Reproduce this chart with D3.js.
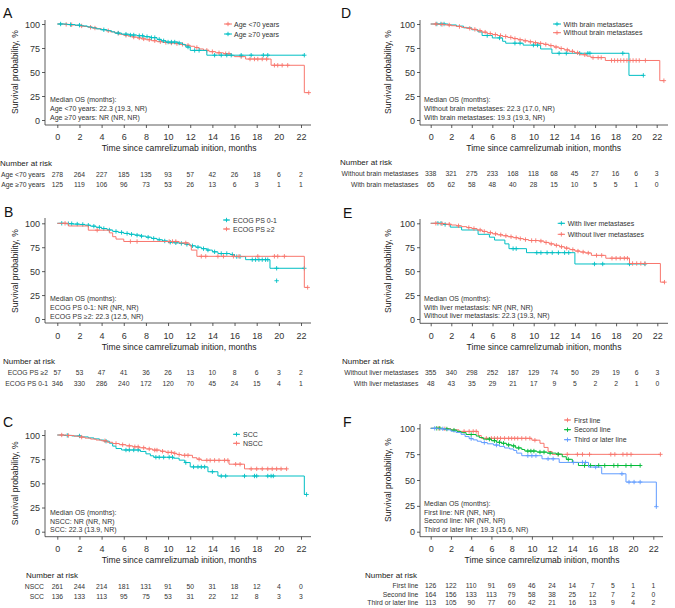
<!DOCTYPE html>
<html><head><meta charset="utf-8">
<script src="https://cdn.jsdelivr.net/npm/d3@7"></script>
<style>body{margin:0;background:#fff}svg{display:block;font-family:"Liberation Sans",Arial,Helvetica,sans-serif}</style>
</head><body><svg id="c" width="675" height="608"></svg>
<script>
// ---------- DATA ----------
const monthTicks = [0,2,4,6,8,10,12,14,16,18,20,22];
const survTicks = [0,25,50,75,100];
const xTitle = "Time since camrelizumab inition, months";
const yTitle = "Survival probability, %";

// Panel A
const A_lt70_steps = [[0.6,99.6],[1.1,99.2],[1.6,98.6],[2.0,98.0],[2.4,97.4],[2.8,96.6],[3.2,95.8],[3.6,95.0],[4.0,94.2],[4.4,93.0],[4.8,91.8],[5.2,90.5],[5.6,89.3],[6.0,88.2],[6.4,87.3],[6.8,86.4],[7.2,85.5],[7.6,84.5],[8.0,83.6],[8.5,82.6],[9.0,81.6],[9.5,80.8],[10.0,80.2],[10.6,79.6],[11.0,78.8],[11.5,77.8],[12.0,76.8],[12.4,75.5],[12.8,74.0],[13.2,72.6],[13.7,71.2],[14.3,70.0],[15.0,69.0],[15.7,67.0],[16.0,66.0],[17.0,63.5],[19.3,57.0],[22.3,28.5]];
const A_lt70_censor = [0.8,1.3,2.2,3.0,3.4,4.6,5.5,6.2,6.9,7.4,7.8,8.3,8.8,9.3,9.8,10.3,10.8,11.3,11.8,12.6,13.5,14.0,14.6,15.2,15.5,16.6,17.4,17.8,18.1,18.5,18.9,19.6,19.9,20.3,20.8,22.7];
const A_ge70_steps = [[0.9,99.4],[1.6,98.8],[2.2,98.0],[2.7,97.0],[3.1,96.0],[3.5,95.0],[3.9,94.0],[4.5,93.0],[4.9,91.8],[5.2,90.5],[5.8,89.4],[6.5,88.5],[7.2,87.8],[7.8,86.8],[8.4,85.8],[9.0,84.0],[9.4,82.5],[9.8,81.2],[10.9,80.2],[11.3,78.5],[11.6,76.0],[12.0,72.5],[13.5,67.5]];
const A_ge70_censor = [0.3,1.2,2.0,4.2,5.5,6.2,6.6,6.9,7.4,7.7,8.1,8.5,8.8,9.2,9.6,10.0,10.3,10.6,11.0,11.8,12.4,12.8,14.2,14.8,15.3,15.7,16.6,17.5,18.6,19.0,22.3];
const A_riskLabels = ["Age <70 years","Age \u226570 years"];
const A_risk_lt70 = [278,264,227,185,135,93,57,42,26,18,6,2];
const A_risk_ge70 = [125,119,106,96,73,53,26,13,6,3,1,1];
const A_median = ["Median OS (months):","Age <70 years: 22.3 (19.3, NR)","Age \u226570 years: NR (NR, NR)"];

// Panel B
const B_ecog01_steps = [[0.8,99.6],[1.4,99.2],[2.0,98.8],[2.5,98.0],[3.0,97.0],[3.5,95.8],[4.0,94.5],[4.5,93.0],[5.0,91.5],[5.5,90.5],[6.0,89.4],[6.5,88.5],[7.0,87.6],[7.5,86.6],[8.0,85.5],[8.5,84.2],[9.0,82.8],[9.5,81.5],[10.0,80.2],[10.5,79.6],[11.0,79.0],[11.5,78.0],[12.0,76.5],[12.5,75.0],[13.0,73.5],[13.5,72.0],[14.0,70.2],[14.5,68.4],[15.6,67.4],[16.0,65.2],[17.0,62.0],[19.2,53.0]];
const B_ecog01_censor = [0.4,1.0,1.3,1.8,2.3,2.8,3.3,3.8,4.2,4.7,5.3,5.8,6.3,6.7,7.2,7.6,8.2,8.7,9.2,9.7,10.2,10.7,11.2,11.7,12.2,12.7,13.2,13.6,14.2,14.8,15.3,15.8,16.2,16.5,17.6,17.9,18.2,18.5,18.8,19.0,19.8,22.3];
const B_ecog01_extra = [[19.8,40]];
const B_ecog2_steps = [[1.0,97.2],[2.8,92.8],[4.7,90.0],[5.0,86.0],[5.3,83.5],[6.0,81.0],[11.0,79.5],[11.9,77.0],[12.1,72.0],[12.6,65.5],[22.3,33.0]];
const B_ecog2_censor = [0.7,3.6,6.6,7.2,10.1,10.4,10.7,11.6,13.0,13.4,14.5,15.0,15.9,16.4,18.1,19.6,19.9,20.5,22.6];
const B_riskLabels = ["ECOG PS \u22652","ECOG PS 0-1"];
const B_risk_ecog2 = [57,53,47,41,36,26,13,10,8,6,3,2];
const B_risk_ecog01 = [346,330,286,240,172,120,70,45,24,15,4,1];
const B_median = ["Median OS (months):","ECOG PS 0-1: NR (NR, NR)","ECOG PS \u22652: 22.3 (12.5, NR)"];

// Panel C
const C_scc_steps = [[0.6,99.6],[1.3,99.0],[2.2,98.0],[2.8,97.0],[3.3,96.0],[3.8,94.8],[4.2,93.6],[4.7,91.5],[5.0,88.5],[5.3,86.0],[5.8,84.5],[7.5,83.0],[8.0,80.5],[8.4,78.5],[8.7,77.0],[10.5,76.0],[11.0,74.0],[11.5,71.5],[12.0,67.0],[13.6,62.0],[14.5,57.6],[22.3,38.5]];
const C_scc_censor = [0.9,2.0,4.4,6.2,6.5,6.9,7.3,8.9,9.2,9.6,10.1,10.4,11.6,12.3,12.7,13.0,13.3,14.0,14.8,15.2,16.9,17.8,18.0,19.0,19.3,19.5,22.5];
const C_nscc_steps = [[0.8,99.5],[1.5,98.8],[2.0,97.8],[2.5,96.8],[3.0,95.8],[3.5,94.8],[4.0,94.0],[4.5,92.5],[5.0,91.2],[5.6,90.0],[6.2,88.8],[6.8,87.8],[7.4,86.8],[8.0,85.6],[8.6,84.4],[9.3,83.2],[9.8,82.0],[10.5,81.0],[10.8,79.8],[11.2,79.0],[12.2,76.5],[12.6,75.0],[13.0,73.8],[15.5,69.8],[16.9,65.0]];
const C_nscc_censor = [0.4,1.0,2.2,4.3,5.3,5.9,6.5,7.0,7.3,7.8,8.3,8.8,9.0,9.5,10.0,10.3,10.6,11.0,11.5,11.8,12.8,13.5,13.8,14.2,14.6,15.1,15.4,16.1,16.5,17.5,18.0,18.5,19.0,19.4,19.8,20.2,20.7];
const C_riskLabels = ["NSCC","SCC"];
const C_risk_nscc = [261,244,214,181,131,91,50,31,18,12,4,0];
const C_risk_scc = [136,133,113,95,75,53,31,22,12,8,3,3];
const C_median = ["Median OS (months):","NSCC: NR (NR, NR)","SCC: 22.3 (13.9, NR)"];

// Panel D
const D_with_steps = [[1.7,99.0],[2.5,97.8],[3.2,96.0],[4.0,94.0],[4.6,91.8],[5.0,88.0],[6.0,85.5],[7.0,82.0],[7.3,80.0],[9.0,78.0],[10.7,74.0],[11.8,69.5],[19.3,46.5]];
const D_with_censor = [0.6,1.0,1.3,5.5,6.7,8.2,8.7,10.0,10.4,12.5,13.2,14.5,15.3,15.5,18.7,20.7];
const D_without_steps = [[0.8,99.6],[1.4,99.0],[2.0,98.2],[2.5,97.4],[3.0,96.5],[3.5,95.5],[4.0,94.4],[4.5,93.0],[5.0,91.5],[5.5,90.0],[6.0,89.0],[6.5,88.0],[7.0,87.0],[7.5,86.0],[8.0,84.8],[8.5,83.6],[9.0,82.5],[9.5,81.5],[10.0,80.5],[10.5,79.8],[11.0,78.8],[11.5,77.5],[12.0,76.0],[12.5,74.5],[13.0,73.0],[13.5,71.5],[14.0,70.0],[14.5,68.0],[15.2,66.5],[15.6,65.0],[17.0,62.0],[22.3,41.0]];
const D_without_censor = [0.5,1.1,1.8,2.8,3.8,4.3,4.8,5.3,5.8,6.3,6.8,7.3,7.8,8.2,8.7,9.2,9.7,10.2,10.7,11.2,11.7,12.2,12.7,13.3,13.8,14.3,15.0,15.8,16.3,16.6,17.6,17.9,18.2,18.5,18.8,19.1,19.4,19.7,20.0,20.3,20.9,22.7];
const D_riskLabels = ["Without brain metastases","With brain metastases"];
const D_risk_without = [338,321,275,233,168,118,68,45,27,16,6,3];
const D_risk_with = [65,62,58,48,40,28,15,10,5,5,1,0];
const D_median = ["Median OS (months):","Without brain metastases: 22.3 (17.0, NR)","With brain metastases: 19.3 (19.3, NR)"];

// Panel E
const E_with_steps = [[1.2,98.8],[1.9,96.0],[3.0,93.0],[4.6,88.5],[5.7,85.5],[6.2,82.5],[7.2,78.5],[7.6,73.5],[9.3,69.3],[14.0,57.5]];
const E_with_censor = [0.7,1.0,1.4,8.0,8.3,10.3,10.7,11.3,11.8,12.4,13.0,13.4,15.9,16.7,19.3,20.8];
const E_without_steps = [[0.8,99.6],[1.5,99.0],[2.0,98.2],[2.5,97.4],[3.0,96.5],[3.5,95.5],[4.0,94.5],[4.5,93.0],[5.0,91.5],[5.5,90.2],[6.0,89.0],[6.5,88.0],[7.0,87.0],[7.5,86.0],[8.0,85.0],[8.5,84.0],[9.0,83.0],[9.5,82.0],[10.5,81.5],[11.0,80.0],[11.5,78.5],[12.0,77.0],[12.5,75.5],[13.0,74.0],[13.5,72.5],[14.0,71.0],[14.5,70.0],[15.0,69.0],[15.6,66.5],[17.0,63.5],[19.3,58.0],[22.3,38.5]];
const E_without_censor = [0.5,1.1,1.8,2.7,3.7,4.2,4.8,5.2,5.8,6.3,6.8,7.3,7.8,8.3,8.7,9.2,9.8,10.2,10.7,11.2,11.7,12.2,12.7,13.2,13.8,14.3,14.8,15.3,16.1,16.6,17.6,18.0,18.4,18.8,19.1,19.6,20.0,20.4,20.8,22.7];
const E_riskLabels = ["Without liver metastases","With liver metastases"];
const E_risk_without = [355,340,298,252,187,129,74,50,29,19,6,3];
const E_risk_with = [48,43,35,29,21,17,9,5,2,2,1,0];
const E_median = ["Median OS (months):","With liver metastasis: NR (NR, NR)","Without liver metastasis: 22.3 (19.3, NR)"];

// Panel F
const F_first_steps = [[1.0,99.5],[2.0,98.5],[2.8,97.0],[4.7,93.0],[5.0,90.3],[10.0,88.5],[10.8,85.5],[11.2,81.5],[11.6,77.5],[12.0,74.8]];
const F_first_censor = [0.8,1.4,3.3,3.8,4.2,4.5,5.5,6.0,6.3,6.6,6.9,7.3,7.7,8.0,8.3,8.6,9.0,9.4,9.8,10.3,12.6,13.5,14.5,15.0,15.7,17.8,18.2,19.0,19.4,19.8,22.7];
const F_second_steps = [[1.2,99.3],[2.0,98.2],[2.6,97.0],[3.0,95.8],[3.5,94.0],[4.5,92.5],[4.8,91.0],[5.2,89.5],[6.0,88.0],[6.5,86.5],[7.0,85.5],[7.5,84.0],[8.0,83.0],[8.4,81.0],[9.0,79.5],[9.3,78.0],[10.5,77.0],[11.5,76.0],[12.4,75.0],[13.0,72.5],[13.4,70.0],[14.0,67.0],[14.6,64.0]];
const F_second_censor = [0.6,0.9,1.6,2.3,4.0,5.8,6.3,6.8,7.2,7.7,8.2,8.7,9.6,9.9,10.2,10.8,11.2,11.8,12.6,13.6,15.2,15.8,16.6,17.2,18.1,18.5,19.3,19.8,20.7];
const F_third_steps = [[0.8,99.5],[1.5,98.5],[2.0,97.2],[2.5,96.0],[3.0,94.2],[3.4,92.0],[3.8,90.0],[4.2,88.8],[4.6,87.5],[5.0,86.2],[5.6,85.0],[6.2,83.8],[6.8,82.5],[7.3,81.0],[7.8,80.0],[8.2,78.6],[8.5,76.0],[9.0,73.5],[11.0,70.5],[12.7,67.0],[15.6,62.5],[16.9,56.0],[19.3,48.0],[22.3,24.2]];
const F_third_censor = [0.4,1.2,4.0,5.3,6.5,9.6,10.0,10.4,11.6,12.1,14.1,15.0,15.3,16.3,18.9,19.6,20.1,20.7,22.3];
const F_riskLabels = ["First line","Second line","Third or later line"];
const F_risk_first = [126,122,110,91,69,46,24,14,7,5,1,1];
const F_risk_second = [164,156,133,113,79,58,38,25,12,7,2,0];
const F_risk_third = [113,105,90,77,60,42,21,16,13,9,4,2];
const F_median = ["Median OS (months):","First line: NR (NR, NR)","Second line: NR (NR, NR)","Third or later line: 19.3 (15.6, NR)"];

const RED = "#F8766D", TEAL = "#00BFC4", GREEN = "#00BA38", BLUE = "#619CFF";

// ---------- LAYOUT ----------
const panels = [
  {letter:"A", lx:3, ly:18, x0:57.3, x22:301, axL:45, axR:311, y100:24, y0:120, axT:20, axB:125, tickY:137, titleY:148, yTitleX:15,
   narX:0, narY:163, rowsY:[174,184], rowRight:45, medX:50, medY:[99,108,117], leg:{x1:224,x2:232,tx:234,ys:[24,34]},
   series:[{name:"Age <70 years",color:RED,steps:A_lt70_steps,censor:A_lt70_censor},{name:"Age \u226570 years",color:TEAL,steps:A_ge70_steps,censor:A_ge70_censor}],
   riskLabels:A_riskLabels, risk:[A_risk_lt70,A_risk_ge70], median:A_median},
  {letter:"B", lx:4, ly:217, x0:57.3, x22:301, axL:45, axR:311, y100:223.3, y0:319, axT:218, axB:323, tickY:336, titleY:346.7, yTitleX:15,
   narX:3, narY:361.7, rowsY:[372.7,383.3], rowRight:48, medX:50, medY:[298.7,307.3,316], leg:{x1:223,x2:230,tx:233,ys:[220,229]},
   series:[{name:"ECOG PS 0-1",color:TEAL,steps:B_ecog01_steps,censor:B_ecog01_censor,extra:B_ecog01_extra},{name:"ECOG PS \u22652",color:RED,steps:B_ecog2_steps,censor:B_ecog2_censor}],
   riskLabels:B_riskLabels, risk:[B_risk_ecog2,B_risk_ecog01], median:B_median},
  {letter:"C", lx:3, ly:427, x0:57.3, x22:301, axL:45, axR:311, y100:435, y0:531.7, axT:430, axB:536.7, tickY:549, titleY:560, yTitleX:15,
   narX:26, narY:575, rowsY:[586,596.7], rowRight:44, medX:50, medY:[512.3,521,529.3], leg:{x1:233,x2:240,tx:243,ys:[434.3,443.3]},
   series:[{name:"SCC",color:TEAL,steps:C_scc_steps,censor:C_scc_censor},{name:"NSCC",color:RED,steps:C_nscc_steps,censor:C_nscc_censor}],
   riskLabels:C_riskLabels, risk:[C_risk_nscc,C_risk_scc], median:C_median},
  {letter:"D", lx:341, ly:18, x0:430.7, x22:656.7, axL:420, axR:668, y100:24, y0:120, axT:20, axB:125, tickY:136.7, titleY:147.7, yTitleX:388,
   narX:340, narY:162.7, rowsY:[173.7,184.3], rowRight:418.3, medX:424, medY:[99.3,108.3,117.3], leg:{x1:553,x2:561,tx:563.5,ys:[24,32.7]},
   series:[{name:"With brain metastases",color:TEAL,steps:D_with_steps,censor:D_with_censor},{name:"Without brain metastases",color:RED,steps:D_without_steps,censor:D_without_censor}],
   riskLabels:D_riskLabels, risk:[D_risk_without,D_risk_with], median:D_median},
  {letter:"E", lx:343, ly:218, x0:430.7, x22:657.3, axL:420, axR:668, y100:223.3, y0:319, axT:219, axB:323.3, tickY:336, titleY:346.7, yTitleX:388,
   narX:342, narY:361.7, rowsY:[372.7,383.3], rowRight:418.3, medX:424, medY:[298.3,307.3,315.7], leg:{x1:557.7,x2:565,tx:567.7,ys:[223.3,234.3]},
   series:[{name:"With liver metastases",color:TEAL,steps:E_with_steps,censor:E_with_censor},{name:"Without liver metastases",color:RED,steps:E_without_steps,censor:E_without_censor}],
   riskLabels:E_riskLabels, risk:[E_risk_without,E_risk_with], median:E_median},
  {letter:"F", lx:343, ly:427, x0:430.7, x22:653.3, axL:420, axR:663, y100:428.3, y0:531.7, axT:424, axB:536.7, tickY:549, titleY:560, yTitleX:388,
   narX:365, narY:575, rowsY:[585.7,594.3,602.3], rowRight:418.3, medX:424, medY:[503.7,512.3,520.7,529], leg:{x1:564,x2:571,tx:574,ys:[420,429.7,439.7]},
   series:[{name:"First line",color:RED,steps:F_first_steps,censor:F_first_censor},{name:"Second line",color:GREEN,steps:F_second_steps,censor:F_second_censor},{name:"Third or later line",color:BLUE,steps:F_third_steps,censor:F_third_censor}],
   riskLabels:F_riskLabels, risk:[F_risk_first,F_risk_second,F_risk_third], median:F_median}
];

const svg = d3.select("#c");
const AX = "#333", TXT = "#333";

function survAt(steps, t){
  let s = 100;
  for (const [ti, si] of steps){ if (ti <= t) s = si; else break; }
  return s;
}
function plus(g, x, y, color, r){
  g.append("path").attr("d", `M${x-r},${y}H${x+r}M${x},${y-r}V${y+r}`)
    .attr("stroke", color).attr("stroke-width", 0.9).attr("fill","none");
}

panels.forEach(p => {
  const g = svg.append("g");
  const x = d3.scaleLinear().domain([0,22]).range([p.x0, p.x22]);
  const y = d3.scaleLinear().domain([0,100]).range([p.y0, p.y100]);

  // panel letter
  g.append("text").attr("x", p.lx).attr("y", p.ly).attr("font-size", 14).attr("fill", "#111").text(p.letter);

  // axes
  const ya = d3.axisLeft(y).tickValues(survTicks).tickSize(3).tickPadding(2);
  const yg = g.append("g").attr("transform", `translate(${p.axL},0)`).call(ya);
  yg.select(".domain").remove();
  g.append("line").attr("x1", p.axL).attr("x2", p.axL).attr("y1", p.axT).attr("y2", p.axB).attr("stroke", AX).attr("stroke-width", 0.8);
  const xa = d3.axisBottom(x).tickValues(monthTicks).tickSize(3).tickPadding(2);
  const xg = g.append("g").attr("transform", `translate(0,${p.axB})`).call(xa);
  xg.select(".domain").remove();
  g.append("line").attr("x1", p.axL).attr("x2", p.axR).attr("y1", p.axB).attr("y2", p.axB).attr("stroke", AX).attr("stroke-width", 0.8);
  [yg, xg].forEach(a => {
    a.selectAll(".tick line").attr("stroke", AX).attr("stroke-width", 0.8);
    a.selectAll(".tick text").attr("fill", TXT).attr("font-size", 9).attr("font-family", "Liberation Sans, Arial, sans-serif");
  });
  xg.selectAll(".tick text").attr("dy", null).attr("y", p.tickY - p.axB).attr("dominant-baseline", "central");
  yg.selectAll(".tick text").attr("dy", null).attr("dominant-baseline", "central");

  // axis titles
  g.append("text").attr("x", (p.x0 + p.x22)/2).attr("y", p.titleY).attr("text-anchor","middle")
    .attr("dominant-baseline","central").attr("font-size", 8.6).attr("fill", "#222").text(xTitle);
  g.append("text").attr("transform", `translate(${p.yTitleX},${(p.y0+p.y100)/2}) rotate(-90)`).attr("text-anchor","middle")
    .attr("dominant-baseline","central").attr("font-size", 8.6).attr("fill", "#222").text(yTitle);

  // curves
  const line = d3.line().x(d => x(d[0])).y(d => y(d[1])).curve(d3.curveStepAfter);
  p.series.forEach(s => {
    const tEnd = Math.max(s.steps[s.steps.length-1][0], d3.max(s.censor));
    const pts = [[0,100], ...s.steps];
    pts.push([tEnd, s.steps[s.steps.length-1][1]]);
    g.append("path").attr("d", line(pts)).attr("fill","none").attr("stroke", s.color).attr("stroke-width", 1);
    s.censor.forEach(t => plus(g, x(t), y(survAt(s.steps, t)), s.color, 2.2));
    (s.extra || []).forEach(d => plus(g, x(d[0]), y(d[1]), s.color, 2.2));
  });

  // legend
  p.series.forEach((s, i) => {
    const ly = p.leg.ys[i];
    g.append("line").attr("x1", p.leg.x1).attr("x2", p.leg.x2).attr("y1", ly).attr("y2", ly).attr("stroke", s.color).attr("stroke-width", 1);
    plus(g, (p.leg.x1 + p.leg.x2)/2, ly, s.color, 2.2);
    g.append("text").attr("x", p.leg.tx).attr("y", ly).attr("dominant-baseline","central")
      .attr("font-size", 7).attr("fill", TXT).text(s.name);
  });

  // median text
  p.median.forEach((t, i) => {
    g.append("text").attr("x", p.medX).attr("y", p.medY[i]).attr("dominant-baseline","central")
      .attr("font-size", 7).attr("fill", TXT).text(t);
  });

  // risk table
  g.append("text").attr("x", p.narX).attr("y", p.narY).attr("dominant-baseline","central")
    .attr("font-size", 8).attr("fill", "#222").text("Number at risk");
  p.risk.forEach((row, i) => {
    const ry = p.rowsY[i];
    g.append("text").attr("x", p.rowRight).attr("y", ry).attr("text-anchor","end").attr("dominant-baseline","central")
      .attr("font-size", 6.8).attr("fill", TXT).text(p.riskLabels[i]);
    row.forEach((v, j) => {
      g.append("text").attr("x", x(monthTicks[j])).attr("y", ry).attr("text-anchor","middle").attr("dominant-baseline","central")
        .attr("font-size", 6.8).attr("fill", TXT).text(v);
    });
  });
});
</script></body></html>
